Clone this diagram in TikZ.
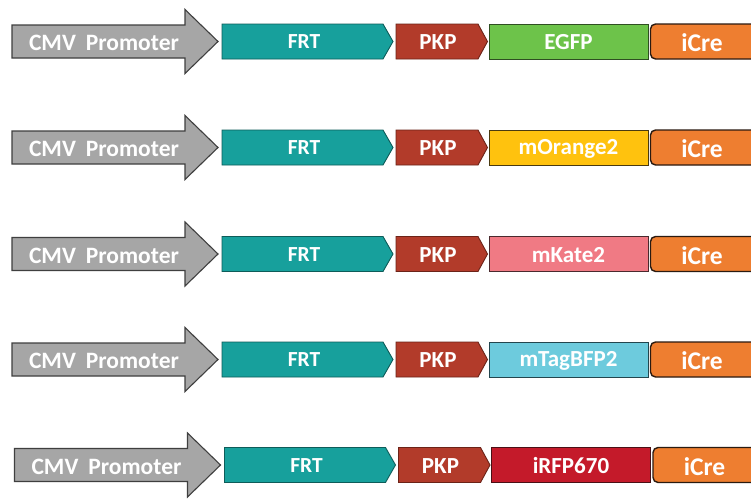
\documentclass[tikz,border=0pt]{standalone}
\usepackage{fontspec}
\setmainfont{Carlito}
\definecolor{grayf}{HTML}{A6A6A6}
\definecolor{grayd}{HTML}{3F3F3F}
\definecolor{frtf}{HTML}{17A09C}
\definecolor{frtd}{HTML}{0E5C59}
\definecolor{pkpf}{HTML}{B23B2A}
\definecolor{pkpd}{HTML}{6B2318}
\definecolor{egfpf}{HTML}{6DC34A}
\definecolor{egfpd}{HTML}{2F4F22}
\definecolor{orgf}{HTML}{FFC20E}
\definecolor{orgd}{HTML}{4A3A10}
\definecolor{katef}{HTML}{F07A84}
\definecolor{kated}{HTML}{4A2A2E}
\definecolor{bfpf}{HTML}{6DCBDD}
\definecolor{bfpd}{HTML}{23464E}
\definecolor{rfpf}{HTML}{C41A2A}
\definecolor{rfpd}{HTML}{4A1015}
\definecolor{cref}{HTML}{EE7E30}
\definecolor{cred}{HTML}{2A1A10}
\begin{document}
\begin{tikzpicture}[x=1pt,y=-1pt,
  lbl/.style={text=white,font=\bfseries\fontsize{23}{23}\selectfont,inner sep=0pt},
  frtlbl/.style={text=white,font=\bfseries\fontsize{21.5}{21.5}\selectfont,inner sep=0pt},
  cmvlbl/.style={text=white,font=\bfseries\fontsize{23.5}{23.5}\selectfont,inner sep=0pt},
  crelbl/.style={text=white,font=\bfseries\fontsize{25.5}{25.5}\selectfont,inner sep=0pt}]
\useasboundingbox (0,0) rectangle (751,498);
\fill[white] (0,0) rectangle (751,498);
\foreach \i/\yc/\dx/\prot/\fc/\dc in {
  1/41.5/0/EGFP/egfpf/egfpd,
  2/147.5/0/mOrange2/orgf/orgd,
  3/254/0/mKate2/katef/kated,
  4/359.5/0/mTagBFP2/bfpf/bfpd,
  5/465/2.5/iRFP670/rfpf/rfpd}
{
\begin{scope}[shift={(\dx,\yc)}]
  % CMV promoter arrow
  \draw[fill=grayf,draw=grayd,line width=1.1pt,line join=miter]
    (12,-16.5) -- (185,-16.5) -- (185,-32) -- (218,0) -- (185,32) -- (185,16.5) -- (12,16.5) -- cycle;
  \node[cmvlbl] (cmv\i) at (104,1.5) {CMV\hspace{0.2em} Promoter};
  % FRT
  \draw[fill=frtf,draw=frtd,line width=0.9pt]
    (222,-17.5) -- (383,-17.5) -- (393,0) -- (383,17.5) -- (222,17.5) -- cycle;
  \node[frtlbl] (frt\i) at (304,0.5) {FRT};
  % PKP
  \draw[fill=pkpf,draw=pkpd,line width=0.9pt]
    (396,-17.5) -- (478,-17.5) -- (487.5,0) -- (478,17.5) -- (396,17.5) -- cycle;
  \node[lbl] (pkp\i) at (438,1) {PKP};
  % fluorescent protein
  \draw[fill=\fc,draw=\dc,line width=1pt] (489,-17.5) rectangle (648,17.5);
  \node[lbl] (fp\i) at (568.5,1) {\prot};
  % iCre
  \draw[fill=cref,draw=cred,line width=1.4pt,rounded corners=5pt] (650.5,-17.5) rectangle (790,17.5);
  \node[crelbl] (cre\i) at (702,1.5) {iCre};
\end{scope}
}
\end{tikzpicture}
\end{document}
